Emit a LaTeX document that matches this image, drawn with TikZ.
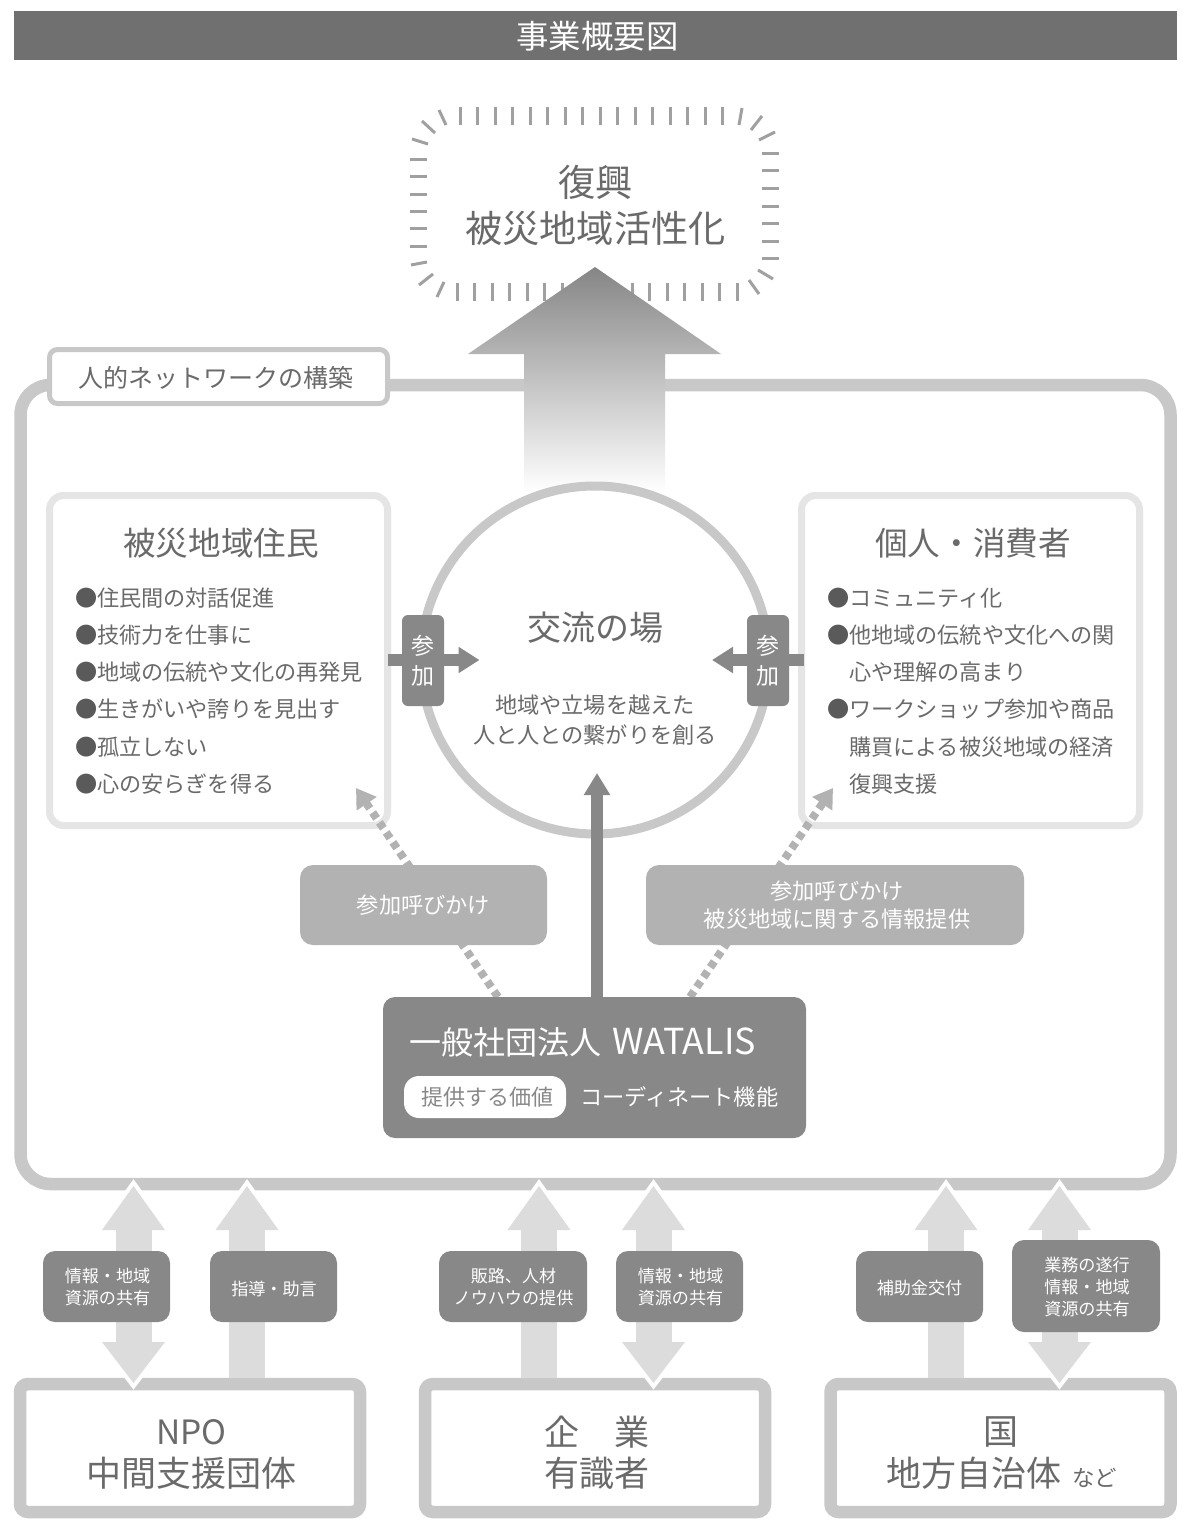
\documentclass[tikz,border=0pt]{standalone}
\usepackage{fontspec}
\setmainfont{Noto Sans CJK JP}
\usetikzlibrary{arrows.meta}
\definecolor{frameg}{HTML}{C8C8C8}
\definecolor{panelg}{HTML}{E5E5E5}
\definecolor{midg}{HTML}{B2B2B2}
\definecolor{darkg}{HTML}{888888}
\definecolor{titleg}{HTML}{707070}
\definecolor{txtg}{HTML}{6A6A6A}
\definecolor{flowg}{HTML}{DCDCDC}
\definecolor{tickg}{HTML}{A0A0A0}
\tikzset{
  every node/.style={inner sep=0pt,outer sep=0pt,text=txtg,align=center},
  boxat/.style 2 args={minimum width=#1,minimum height=#2},
  frame/.style={draw=frameg,line width=12.5pt,rounded corners=30pt,fill=white},
  orgbox/.style={draw=frameg,line width=12.5pt,rounded corners=8pt,fill=white},
  panel/.style={draw=panelg,line width=7pt,rounded corners=14pt,fill=white},
  labbox/.style={fill=darkg,rounded corners=12pt},
  labtext/.style={text=white,font=\fontsize{17.1}{22}\selectfont},
  callbox/.style={fill=midg,rounded corners=13pt},
  calltext/.style={text=white,font=\fontsize{22.2}{28}\selectfont},
  tab/.style={fill=darkg,rounded corners=6pt,text=white,font=\fontsize{23}{30}\selectfont},
  heading/.style={font=\fontsize{32.6}{40}\selectfont},
  orgtext/.style={font=\fontsize{35}{41}\selectfont},
  bullet/.style={anchor=west,font=\fontsize{22.15}{26}\selectfont},
  tickmark/.style={draw=tickg,line width=3pt},
  dotflow/.style={draw=midg,line width=8pt,dash pattern=on 7pt off 5pt,-{Triangle[length=19pt,width=23pt]}},
  tabflow/.style={draw=darkg,line width=12pt,-{Triangle[length=21pt,width=25pt]}},
  flowhalo/.style={draw=white,line width=8pt,line join=miter},
  flowfill/.style={fill=flowg}
}
\newcommand{\BL}{{\color{txtg!85!black}●}}
\begin{document}
\begin{tikzpicture}[x=1pt,y=-1pt]
\useasboundingbox (0,0) rectangle (1190,1536);
\fill[white] (0,0) rectangle (1190,1536);

% title
\node[fill=titleg,boxat={1163pt}{49pt}] (title) at (595.5,35.5) {};
\node[text=white,font=\fontsize{32.4}{38}\selectfont] (titlet) at (597.5,36) {事業概要図};

% burst ticks
\foreach \k in {0,...,15} \draw[tickmark] ({460+17.5*\k},107) -- ({460+17.5*\k},125);
\foreach \k in {0,...,16} \draw[tickmark] ({457+17.5*\k},283) -- ({457+17.5*\k},301);
\foreach \yy in {159,176.5,194,211,228.5,246} \draw[tickmark] (410,\yy) -- (427,\yy);
\foreach \yy in {153,170.5,188,206,223,241,258} \draw[tickmark] (762,\yy) -- (779,\yy);
\foreach \a/\b/\c/\d in {439/110/446/125,422/121/435/133,412/139/428/144,411/265/427/262,419/285/433/274,437/297/444/282,742/108/739/125,762/116/751/130,775/132/759/140,773/279/758/270,759/294/749/280}
  \draw[tickmark] (\a,\b) -- (\c,\d);
\node[font=\fontsize{37.2}{46}\selectfont] (goal) at (595.5,205.5) {復興\\被災地域活性化};

% main frame
\node[frame,boxat={1150pt}{799pt}] (net) at (595.5,784.5) {};
\node[draw=frameg,line width=5pt,rounded corners=8pt,fill=white,boxat={338pt}{54pt}] (netlabel) at (218.5,376.5) {};
\node[font=\fontsize{25}{30}\selectfont] (netlabelt) at (216,377.5) {人的ネットワークの構築};

% big arrow
\shade[top color=titleg!85!white,bottom color=white] (595,267) -- (721,354) -- (665,354) -- (665,492) -- (524,492) -- (524,354) -- (468,354) -- cycle;

% panels
\node[panel,boxat={338pt}{330pt}] (resid) at (218.5,660.5) {};
\node[panel,boxat={338pt}{330pt}] (cons) at (970.5,660.5) {};
\node[heading] (residh) at (221,543) {被災地域住民};
\node[heading] (consh) at (973,543) {個人・消費者};
\node[bullet] (r1) at (75,598) {\BL 住民間の対話促進};
\node[bullet] (r2) at (75,635) {\BL 技術力を仕事に};
\node[bullet] (r3) at (75,672) {\BL 地域の伝統や文化の再発見};
\node[bullet] (r4) at (75,709) {\BL 生きがいや誇りを見出す};
\node[bullet] (r5) at (75,747) {\BL 孤立しない};
\node[bullet] (r6) at (75,784) {\BL 心の安らぎを得る};
\node[bullet] (c1) at (827,598) {\BL コミュニティ化};
\node[bullet] (c2) at (827,635) {\BL 他地域の伝統や文化への関};
\node[bullet] (c3) at (849,672) {心や理解の高まり};
\node[bullet] (c4) at (827,709) {\BL ワークショップ参加や商品};
\node[bullet] (c5) at (849,747) {購買による被災地域の経済};
\node[bullet] (c6) at (849,784) {復興支援};

% circle
\node[circle,draw=frameg,line width=9pt,fill=white,minimum size=348pt] (place) at (595,660) {};
\node[font=\fontsize{34}{40}\selectfont] (placeh) at (595.5,627.5) {交流の場};
\node[font=\fontsize{22.2}{30}\selectfont] (placet) at (595,720) {地域や立場を越えた\\人と人との繋がりを創る};

% participation
\coordinate (tl0) at (388,660); \coordinate (tl1) at (479.5,660);
\coordinate (tr0) at (803.5,660); \coordinate (tr1) at (712,660);
\draw[tabflow] (tl0) -- (tl1);
\draw[tabflow] (tr0) -- (tr1);
\node[tab,boxat={42pt}{91pt}] (tabl) at (423,660.5) {参\\加};
\node[tab,boxat={42pt}{91pt}] (tabr) at (768,660.5) {参\\加};

% WATALIS flows
\coordinate (dl0) at (498,997); \coordinate (dl1) at (356,788);
\coordinate (dr0) at (690,997); \coordinate (dr1) at (833,788);
\coordinate (cc0) at (597,997); \coordinate (cc1) at (597,773);
\draw[dotflow] (dl0) -- (dl1);
\draw[dotflow] (dr0) -- (dr1);
\draw[draw=darkg,line width=12.5pt,-{Triangle[length=22pt,width=25pt]}] (cc0) -- (cc1);
\node[callbox,boxat={247pt}{80pt}] (calll) at (423.5,905) {};
\node[calltext] (calllt) at (423.5,905) {参加呼びかけ};
\node[callbox,boxat={378pt}{80pt}] (callr) at (835,905) {};
\node[calltext] (callrt) at (837,905) {参加呼びかけ\\被災地域に関する情報提供};
\node[fill=darkg,rounded corners=12pt,boxat={423pt}{141pt}] (wat) at (594.5,1067.5) {};
\node[anchor=west,text=white,font=\fontsize{32}{38}\selectfont] (watname) at (409,1042) {一般社団法人\hspace{11pt}{\fontsize{35.8}{38}\selectfont WATALIS}};
\node[fill=white,rounded corners=15pt,boxat={162pt}{42pt},text=darkg,font=\fontsize{22}{26}\selectfont] (value) at (485,1097) {\hspace{4pt}提供する価値};
\node[anchor=west,text=white,font=\fontsize{22.2}{26}\selectfont] (coord) at (580,1097) {コーディネート機能};

% organisations
\node[orgbox,boxat={340pt}{128pt}] (npo) at (190,1448) {};
\node[orgbox,boxat={340pt}{128pt}] (com) at (595,1448) {};
\node[orgbox,boxat={340pt}{128pt}] (gov) at (1000.5,1448) {};
\node[font=\fontsize{33.5}{41}\selectfont] (npot1) at (191.5,1432) {NPO};
\node[orgtext] (npot2) at (191,1473) {中間支援団体};
\node[orgtext] (comt) at (597,1452.5) {企　業\\有識者};
\node[orgtext] (govt1) at (1001,1432) {国};
\node[orgtext,anchor=west] (govt2) at (886,1473) {地方自治体\hspace{11pt}{\fontsize{22.5}{41}\selectfont など}};

% flows between organisations and the network frame
\foreach \x in {133.5,247,539,653.5,946,1059.5} {
  \path[flowhalo] (\x,1186) -- ({\x+31.5},1230) -- ({\x-31.5},1230) -- cycle;
  \fill[flowfill] (\x,1186) -- ({\x+31.5},1230) -- ({\x-31.5},1230) -- cycle;
}
\foreach \x in {247,539,946} \fill[flowfill] ({\x-18},1229) rectangle ({\x+18},1378);
\foreach \x in {133.5,653.5,1059.5} {
  \path[flowhalo] (\x,1383) -- ({\x+31.5},1342) -- ({\x-31.5},1342) -- cycle;
  \fill[flowfill] (\x,1383) -- ({\x+31.5},1342) -- ({\x-31.5},1342) -- cycle;
  \fill[flowfill] ({\x-18},1229) rectangle ({\x+18},1343);
}

\node[labbox,boxat={127pt}{71pt}] (l1) at (106.5,1286.5) {};
\node[labtext] (l1t) at (107.5,1287) {情報・地域\\資源の共有};
\node[labbox,boxat={127pt}{71pt}] (l2) at (273.5,1286.5) {};
\node[labtext] (l2t) at (274,1288.5) {指導・助言};
\node[labbox,boxat={148pt}{71pt}] (l3) at (513,1286.5) {};
\node[labtext] (l3t) at (513.5,1287) {販路、人材\\ノウハウの提供};
\node[labbox,boxat={127pt}{71pt}] (l4) at (679.5,1286.5) {};
\node[labtext] (l4t) at (680.5,1287) {情報・地域\\資源の共有};
\node[labbox,boxat={127pt}{71pt}] (l5) at (919.5,1286.5) {};
\node[labtext] (l5t) at (919.5,1288.5) {補助金交付};
\node[labbox,boxat={148pt}{92pt}] (l6) at (1086,1286) {};
\node[labtext] (l6t) at (1087,1287.5) {業務の遂行\\情報・地域\\資源の共有};
\end{tikzpicture}
\end{document}
